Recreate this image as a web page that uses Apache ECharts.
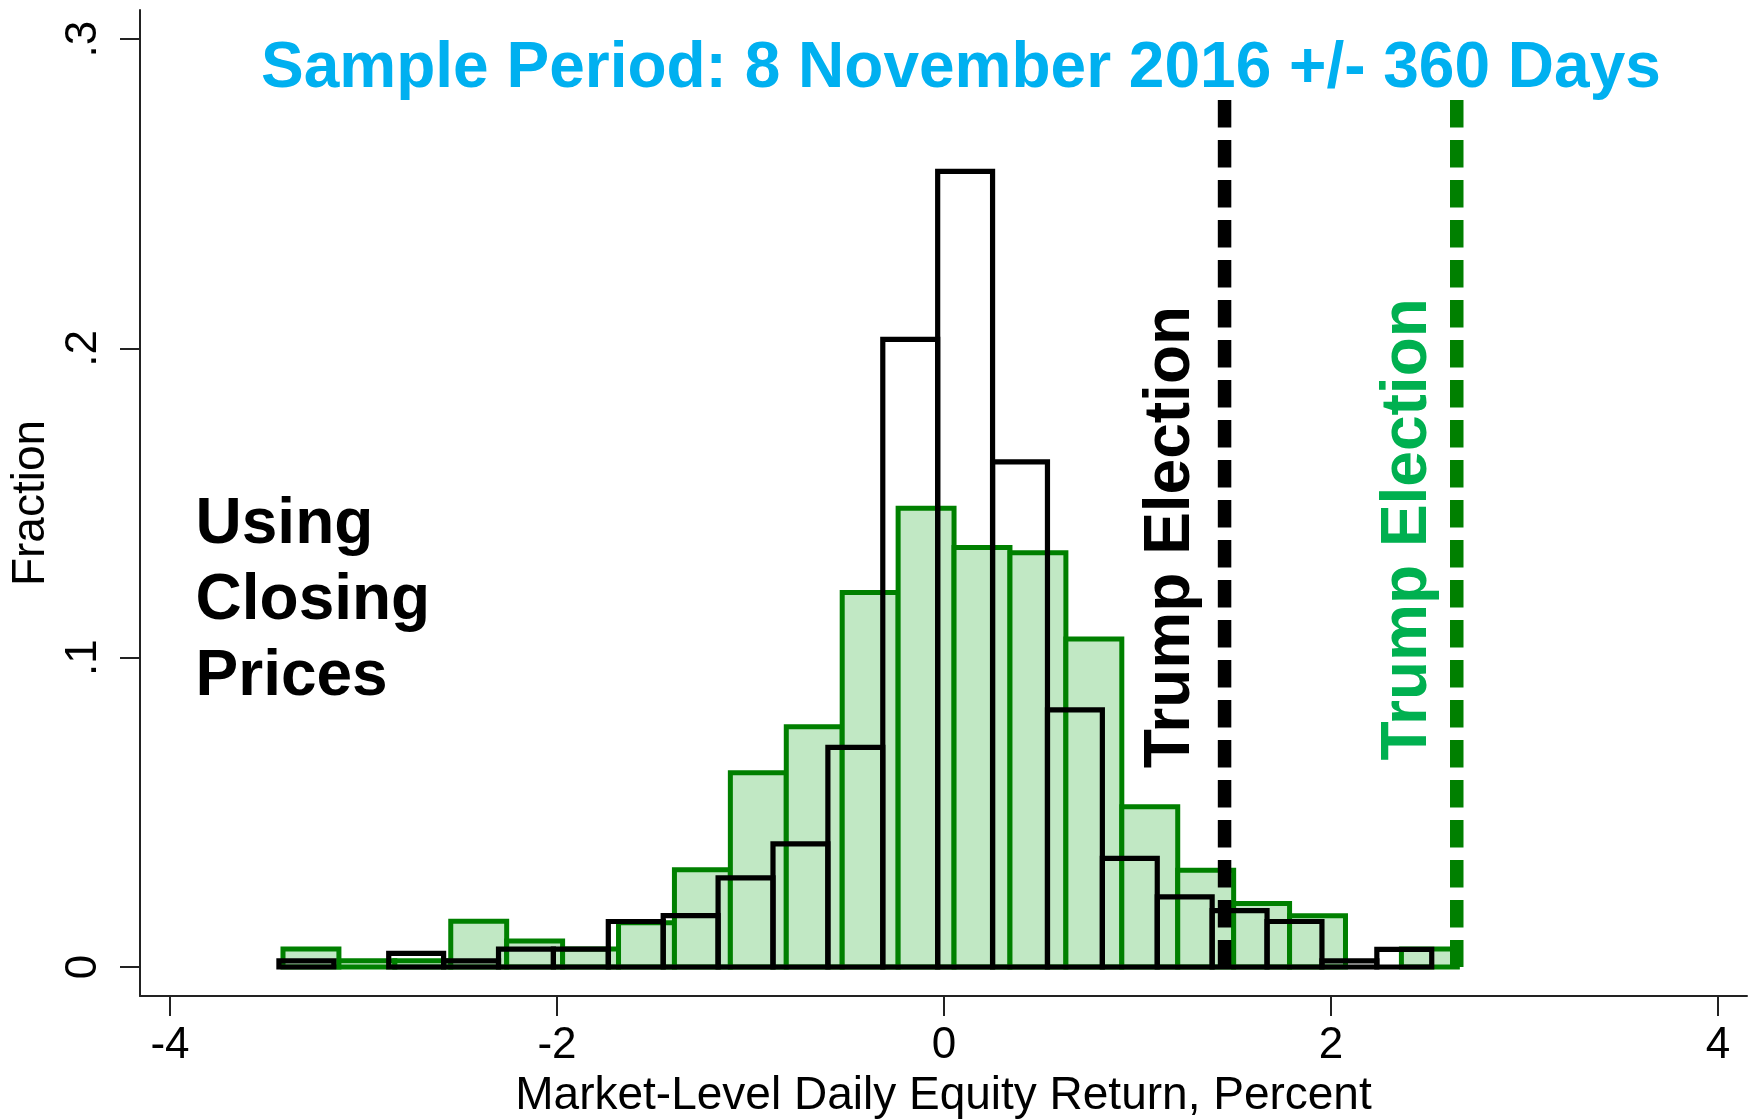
<!DOCTYPE html>
<html>
<head>
<meta charset="utf-8">
<script src="https://cdn.jsdelivr.net/npm/echarts@6/dist/echarts.min.js"></script>
<style>
html,body{margin:0;padding:0;background:#fff;}
#chart{width:1756px;height:1119px;}
</style>
</head>
<body>
<div id="chart"></div>
<script>
// ---- data ----
const titleText = 'Sample Period: 8 November 2016 +/- 360 Days';
const xTicks = [-4, -2, 0, 2, 4];
const yTicks = [0, 0.1, 0.2, 0.3];
const yTickLabels = ['0', '.1', '.2', '.3'];
const xAxisTitle = 'Market-Level Daily Equity Return, Percent';
const yAxisTitle = 'Fraction';
const noteText = 'Using\nClosing\nPrices';
const electionLabel = 'Trump Election';

// closing-price histogram (black outline): first bin start and bin width
const closeBinStart = -3.437;
const closeBinWidth = 0.2837;
const closeFraction = [0.0020, 0, 0.0044, 0.0020, 0.0058, 0.0058, 0.0147, 0.0166, 0.0288, 0.0398, 0.0710,
  0.2029, 0.2572, 0.1633, 0.0831, 0.0351, 0.0227, 0.0182, 0.0147, 0.0020, 0.0057];

// second histogram (green filled)
const greenBinStart = -3.416;
const greenBinWidth = 0.289;
const greenFraction = [0.0058, 0.0020, 0.0020, 0.0148, 0.0084, 0.0058, 0.0143, 0.0314, 0.0628, 0.0777, 0.1211,
  0.1483, 0.1356, 0.1339, 0.1060, 0.0518, 0.0313, 0.0205, 0.0166, 0, 0.0058];

// election-day returns
const electionClose = 1.45;
const electionGreen = 2.65;
const electionLineTop = 0.2803;

// ---- build ----
function bins(start, width, fr) {
  const out = [];
  fr.forEach((h, i) => { if (h > 0) out.push([start + i * width, start + (i + 1) * width, h]); });
  return out;
}
const FONT = "'Liberation Sans', Arial, Helvetica, sans-serif";
const DARKGREEN = '#008000';
const LIGHTGREEN = '#c1e8c4';
const CYAN = '#00b0f0';
const BRIGHTGREEN = '#00b050';

function barRenderer(fill, stroke, lw) {
  return function (params, api) {
    const p0 = api.coord([api.value(0), api.value(2)]);
    const p1 = api.coord([api.value(1), 0]);
    return {
      type: 'rect',
      shape: { x: p0[0], y: p0[1], width: p1[0] - p0[0], height: p1[1] - p0[1] },
      style: { fill: fill, stroke: stroke, lineWidth: lw }
    };
  };
}

const chart = echarts.init(document.getElementById('chart'), null, { renderer: 'canvas' });
const option = {
  animation: false,
  backgroundColor: '#fff',
  textStyle: { fontFamily: FONT },
  title: {
    text: titleText,
    left: 256, top: 32,
    textStyle: { color: CYAN, fontSize: 64, fontWeight: 'bold', fontFamily: FONT }
  },
  grid: { left: 140, right: 9, top: 10, bottom: 123, containLabel: false, outerBoundsMode: 'none' },
  xAxis: {
    type: 'value', min: -4.155, max: 4.15,
    name: xAxisTitle, nameLocation: 'middle', nameGap: 76,
    nameTextStyle: { fontSize: 46, color: '#000', fontFamily: FONT },
    axisLine: { onZero: false, lineStyle: { color: '#222', width: 2 } },
    axisTick: { show: true, length: 20, lineStyle: { color: '#222', width: 2 }, customValues: xTicks },
    axisLabel: { customValues: xTicks, fontSize: 44, color: '#000', margin: 28, fontFamily: FONT },
    splitLine: { show: false }
  },
  yAxis: {
    type: 'value', min: -0.00938, max: 0.3094,
    name: yAxisTitle, nameLocation: 'middle', nameGap: 77, nameRotate: 90,
    nameTextStyle: { fontSize: 46, color: '#000', fontFamily: FONT },
    axisLine: { onZero: false, lineStyle: { color: '#222', width: 2 } },
    axisTick: { show: true, length: 20, lineStyle: { color: '#222', width: 2 }, customValues: yTicks },
    axisLabel: {
      customValues: yTicks, rotate: 90, fontSize: 44, color: '#000', margin: 34, fontFamily: FONT,
      formatter: v => { const i = yTicks.findIndex(t => Math.abs(t - v) < 1e-9); return i >= 0 ? yTickLabels[i] : ''; }
    },
    splitLine: { show: false }
  },
  series: [
    {
      type: 'custom', name: 'green', renderItem: barRenderer(LIGHTGREEN, DARKGREEN, 5),
      data: bins(greenBinStart, greenBinWidth, greenFraction), encode: { x: [0, 1], y: 2 }, silent: true, z: 2
    },
    {
      type: 'custom', name: 'closing', renderItem: barRenderer('rgba(0,0,0,0)', '#000', 5.2),
      data: bins(closeBinStart, closeBinWidth, closeFraction), encode: { x: [0, 1], y: 2 }, silent: true, z: 3
    },
    {
      type: 'line', name: 'electionClose', data: [[electionClose, electionLineTop], [electionClose, 0]],
      symbol: 'none', silent: true, z: 4,
      lineStyle: { color: '#000', width: 13.5, type: [27.5, 12.5], cap: 'butt' }
    },
    {
      type: 'line', name: 'electionGreen', data: [[electionGreen, electionLineTop], [electionGreen, 0]],
      symbol: 'none', silent: true, z: 4,
      lineStyle: { color: DARKGREEN, width: 13.5, type: [27.5, 12.5], cap: 'butt' }
    }
  ]
};
chart.setOption(option);

// annotations placed relative to the data coordinates
const pB = chart.convertToPixel({ gridIndex: 0 }, [electionClose, 0.139]);
const pG = chart.convertToPixel({ gridIndex: 0 }, [electionGreen, 0.1415]);
const pNote = chart.convertToPixel({ gridIndex: 0 }, [-3.868, 0.1181]);
chart.setOption({
  graphic: [
    {
      type: 'text', x: pB[0] - 53, y: pB[1], rotation: Math.PI / 2, silent: true,
      style: { text: electionLabel, fill: '#000', font: 'bold 64px ' + FONT, align: 'center', verticalAlign: 'middle' }
    },
    {
      type: 'text', x: pG[0] - 48.5, y: pG[1], rotation: Math.PI / 2, silent: true,
      style: { text: electionLabel, fill: BRIGHTGREEN, font: 'bold 64px ' + FONT, align: 'center', verticalAlign: 'middle' }
    },
    {
      type: 'text', x: pNote[0], y: pNote[1], silent: true,
      style: { text: noteText, fill: '#000', font: 'bold 64px ' + FONT, lineHeight: 76, align: 'left', verticalAlign: 'middle' }
    }
  ]
});
</script>
</body>
</html>
